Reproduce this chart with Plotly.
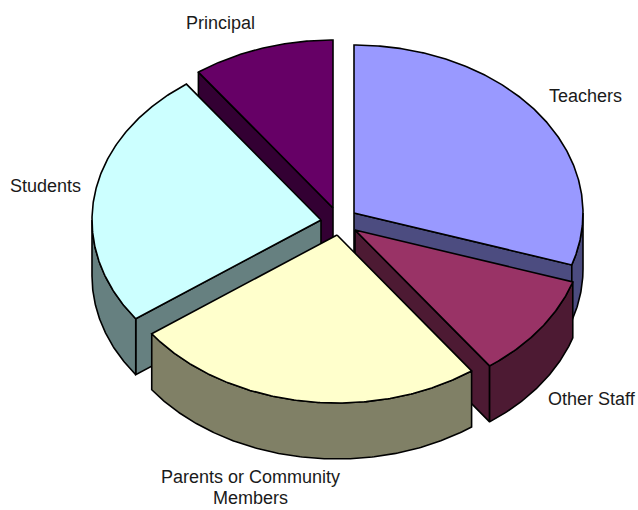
import numpy as np
import plotly.graph_objects as go

categories = ["Teachers", "Other Staff", "Parents or Community<br>Members", "Students", "Principal"]
values = [30, 10, 25, 25, 10]
top_colors = ["#9999ff", "#993366", "#ffffcc", "#ccffff", "#660066"]
wall_colors = ["#4c4c80", "#4d1a33", "#808066", "#668080", "#330033"]
apex_x = [354, 355, 337, 321, 333]
apex_y = [213, 230, 235, 220, 208]
label_x = [585, 592, 250, 45, 220]
label_y = [96, 399, 487.5, 186, 23]
draw_order = [4, 0, 3, 1, 2]

RX, RY, DEPTH = 229, 168, 56
OUT = "#000000"
LINE_GAP = 21


def rim(cx, cy, a0, a1):
    t = np.radians(np.linspace(a0, a1, max(int(abs(a1 - a0) * 2), 2)))
    return cx + RX * np.sin(t), cy - RY * np.cos(t)


fig = go.Figure()


def poly(x, y, color):
    fig.add_trace(go.Scatter(
        x=list(x) + [x[0]], y=list(y) + [y[0]], mode="lines", fill="toself",
        fillcolor=color, line=dict(color=OUT, width=1.6),
        hoverinfo="skip", showlegend=False))


edges = np.cumsum([0] + values) / sum(values) * 360
for i in draw_order:
    a0, a1 = edges[i], edges[i + 1]
    cx, cy = apex_x[i], apex_y[i]
    # straight inner walls, only those that face the viewer
    walls = []
    if 180 < a0 < 360:
        walls.append(a0)
    if 0 < a1 < 180:
        walls.append(a1)
    for a in walls:
        ex, ey = rim(cx, cy, a, a)
        ex, ey = ex[0], ey[0]
        poly([cx, ex, ex, cx], [cy, ey, ey + DEPTH, cy + DEPTH], wall_colors[i])
    # outer curved wall: only the part that faces the viewer
    v0, v1 = max(a0, 90), min(a1, 270)
    if v1 > v0:
        rx, ry = rim(cx, cy, v0, v1)
        poly(np.r_[rx, rx[::-1]], np.r_[ry, ry[::-1] + DEPTH], wall_colors[i])
    # top face
    rx, ry = rim(cx, cy, a0, a1)
    poly(np.r_[cx, rx], np.r_[cy, ry], top_colors[i])

for name, lx, ly in zip(categories, label_x, label_y):
    parts = name.split("<br>")
    for k, part in enumerate(parts):
        fig.add_annotation(x=lx, y=ly + (k - (len(parts) - 1) / 2) * LINE_GAP, text=part,
                           showarrow=False,
                           font=dict(family="Liberation Sans", size=18, color="#1a1a1a"))

fig.update_layout(
    width=638, height=510, margin=dict(l=0, r=0, t=0, b=0),
    paper_bgcolor="white", plot_bgcolor="white",
    xaxis=dict(range=[0, 638], visible=False, fixedrange=True),
    yaxis=dict(range=[510, 0], visible=False, fixedrange=True),
)
fig.write_html("out.html", config={"displayModeBar": False},
               post_script="document.body.style.margin='0';document.documentElement.style.overflow='hidden';")
